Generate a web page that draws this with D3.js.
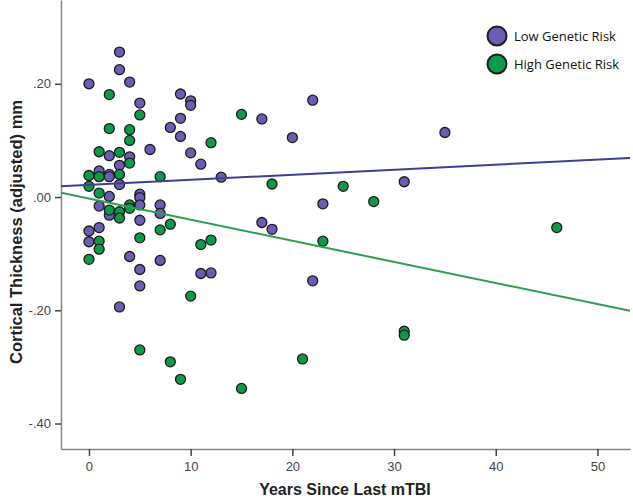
<!DOCTYPE html>
<html>
<head>
<meta charset="utf-8">
<script src="https://cdn.jsdelivr.net/npm/d3@7"></script>
<style>
  html, body { margin: 0; padding: 0; background: #fff; }
  svg { display: block; }
</style>
</head>
<body>
<svg id="chart" width="633" height="504"></svg>
<script>
// ---- data ----
const seriesNames = ["Low Genetic Risk", "High Genetic Risk"];
const lowYears = [3,3,0,4,5,9,10,10,9,8,9,6,2,4,10,3,11,1,2,2,13,3,2,5,5,1,2,5,7,7,5,0,1,0,4,7,5,5,11,12,3,22,17,20,23,17,18,22,35,31];
const lowValues = [0.256,0.225,0.200,0.203,0.166,0.182,0.170,0.162,0.139,0.123,0.107,0.084,0.073,0.071,0.078,0.056,0.058,0.046,0.040,0.036,0.035,0.022,0.001,0.005,-0.001,-0.016,-0.032,-0.014,-0.014,-0.029,-0.041,-0.060,-0.054,-0.079,-0.105,-0.112,-0.128,-0.157,-0.135,-0.134,-0.194,0.171,0.138,0.105,-0.012,-0.045,-0.057,-0.148,0.114,0.027];
const highYears = [2,5,2,4,4,12,1,3,4,0,1,3,7,0,1,2,3,3,4,4,8,7,5,1,1,0,11,12,10,5,8,9,18,25,28,23,21,15,15,46,31,31];
const highValues = [0.181,0.145,0.121,0.119,0.100,0.096,0.080,0.079,0.060,0.038,0.036,0.040,0.036,0.019,0.007,-0.023,-0.026,-0.037,-0.014,-0.020,-0.048,-0.058,-0.072,-0.078,-0.092,-0.110,-0.084,-0.076,-0.175,-0.270,-0.291,-0.322,0.023,0.019,-0.008,-0.078,-0.286,-0.338,0.146,-0.054,-0.237,-0.244];
// fit lines: intercept at year 0, slope per year
const fitIntercepts = [0.0215, -0.0027];
const fitSlopes = [0.000894, -0.003729];
const xTicks = [0, 10, 20, 30, 40, 50];
const yTicks = [0.2, 0, -0.2, -0.4];
const xDomain = [-2.75, 53.2];
const yDomain = [-0.445, 0.348];

// ---- style ----
const fills = ["#6a5db3", "#0e9a47"];
const lineColors = ["#3d3f94", "#2aa04a"];
const mLeft = 61, mRight = 630, mTop = 0, mBottom = 449;

const svg = d3.select("#chart");
const x = d3.scaleLinear().domain(xDomain).range([mLeft, mRight]);
const y = d3.scaleLinear().domain(yDomain).range([mBottom, mTop]);

// axes
const fmtY = d => d3.format(".2f")(d).replace("\u2212", "-").replace("0.", ".");
const yAxis = svg.append("g").attr("transform", `translate(${mLeft},0)`)
  .call(d3.axisLeft(y).tickValues(yTicks).tickFormat(fmtY).tickSize(6).tickSizeOuter(0));
const xAxis = svg.append("g").attr("transform", `translate(0,${mBottom})`)
  .call(d3.axisBottom(x).tickValues(xTicks).tickSize(7).tickSizeOuter(0));
[yAxis, xAxis].forEach(g => {
  g.select(".domain").attr("stroke", "#8a8580").attr("stroke-width", 1.5);
  g.selectAll(".tick line").attr("stroke", "#444").attr("stroke-width", 1.5);
  g.selectAll("text").attr("fill", "#444").attr("font-family", "Liberation Sans, Arial, sans-serif").attr("font-size", 13);
});
yAxis.selectAll("text").attr("dx", "-1");
xAxis.selectAll("text").attr("dy", "0.95em");

// clip
svg.append("clipPath").attr("id", "clip").append("rect")
  .attr("x", mLeft).attr("y", mTop).attr("width", mRight - mLeft).attr("height", mBottom - mTop);

const plot = svg.append("g").attr("clip-path", "url(#clip)");

// points
const groups = [
  lowYears.map((d, i) => ({ x: d, y: lowValues[i] })),
  highYears.map((d, i) => ({ x: d, y: highValues[i] }))
];
groups.forEach((pts, gi) => {
  plot.append("g").selectAll("circle").data(pts).join("circle")
    .attr("cx", d => x(d.x)).attr("cy", d => y(d.y)).attr("r", 5)
    .attr("fill", fills[gi]).attr("stroke", "#1c1c1c").attr("stroke-width", 1.3);
});

// fit lines
const line = d3.line().x(d => x(d[0])).y(d => y(d[1]));
fitIntercepts.forEach((b, i) => {
  const pts = xDomain.map(t => [t, b + fitSlopes[i] * t]);
  plot.append("path").datum(pts).attr("d", line)
    .attr("fill", "none").attr("stroke", lineColors[i]).attr("stroke-width", 2);
});

// axis titles
svg.append("text").attr("x", 345).attr("y", 495)
  .attr("text-anchor", "middle").attr("font-family", "Liberation Sans, Arial, sans-serif")
  .attr("font-weight", "bold").attr("font-size", 16).attr("fill", "#222")
  .text("Years Since Last mTBI");
svg.append("text").attr("transform", "translate(22,232) rotate(-90)")
  .attr("text-anchor", "middle").attr("font-family", "Liberation Sans, Arial, sans-serif")
  .attr("font-weight", "bold").attr("font-size", 16.5).attr("fill", "#222")
  .text("Cortical Thickness (adjusted) mm");

// legend
const legend = svg.append("g");
seriesNames.forEach((name, i) => {
  const ly = 36 + i * 28;
  legend.append("circle").attr("cx", 497).attr("cy", ly).attr("r", 9.5)
    .attr("fill", fills[i]).attr("stroke", "#1c1c1c").attr("stroke-width", 2);
  legend.append("text").attr("x", 514).attr("y", ly).attr("dy", "0.35em")
    .attr("font-family", "Open Sans, sans-serif").attr("font-size", 13).attr("fill", "#111")
    .text(name);
});
</script>
</body>
</html>
